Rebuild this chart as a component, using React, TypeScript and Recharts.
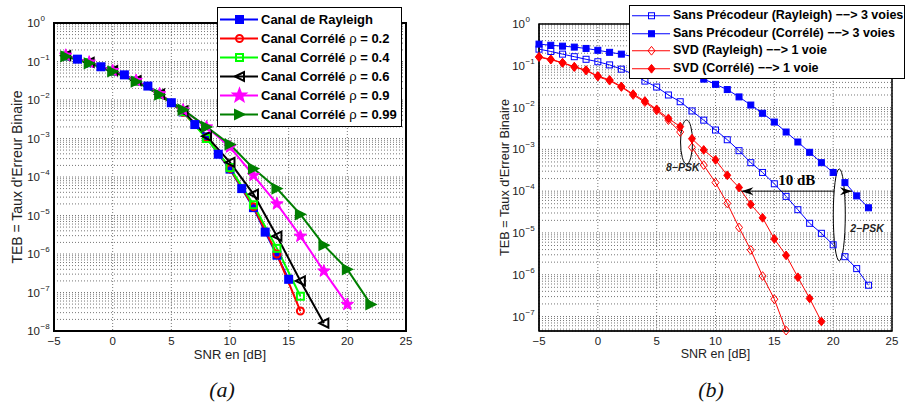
import React from "react";
import {
  LineChart,
  Line,
  XAxis,
  YAxis,
  CartesianGrid,
  Legend,
  Label,
  ReferenceArea,
  ReferenceDot,
  ReferenceLine,
} from "recharts";

// ---------- (a) effet de la corrélation ----------
const snrA1 = [-4, -3, -2, -1, 0, 1, 2, 3, 4, 5, 6, 7, 8, 9, 10, 11, 12, 13, 14, 15];
const snrA2 = [-4, -2, 0, 2, 4, 6, 8, 10, 12, 14, 16, 18, 20, 22];

const berRayleigh = [0.138, 0.115, 0.093, 0.073, 0.056, 0.045, 0.031, 0.023, 0.014, 0.0085, 0.0049, 0.0023, 0.0011, 3.9e-4, 1.6e-4, 5e-5, 1.6e-5, 3.7e-6, 9.3e-7, 2.2e-7];
const berRho02 = [0.14, 0.094, 0.057, 0.031, 0.0138, 0.0048, 0.00105, 1.65e-4, 1.7e-5, 1.0e-6, 3.3e-8];
const berRho04 = [0.14, 0.094, 0.057, 0.031, 0.0138, 0.005, 0.001, 1.75e-4, 1.9e-5, 1.4e-6, 8e-8];
const berRho06 = [0.142, 0.095, 0.058, 0.032, 0.0142, 0.0052, 0.00115, 2.4e-4, 3.6e-5, 2.9e-6, 2e-7, 1.6e-8];
const berRho09 = [0.145, 0.096, 0.058, 0.032, 0.0145, 0.0055, 0.002, 6e-4, 1.1e-4, 2e-5, 2.9e-6, 3.6e-7, 4.9e-8];
const berRho099 = [0.135, 0.09, 0.055, 0.03, 0.0138, 0.0056, 0.002, 7e-4, 1.66e-4, 5e-5, 1.07e-5, 1.7e-6, 4e-7, 4.9e-8];

// ---------- (b) précodeur SVD ----------
const snrB = [-5, -4, -3, -2, -1, 0, 1, 2, 3, 4, 5, 6, 7, 8, 9, 10, 11, 12, 13, 14, 15, 16, 17, 18, 19, 20, 21, 22, 23];

const berSansRay = [0.25, 0.22, 0.19, 0.165, 0.143, 0.125, 0.105, 0.083, 0.063, 0.043, 0.031, 0.02, 0.0138, 0.0083, 0.005, 0.0029, 0.0017, 9.3e-4, 4.8e-4, 2.8e-4, 1.5e-4, 7.5e-5, 3.6e-5, 1.7e-5, 9.8e-6, 5.2e-6, 2.7e-6, 1.4e-6, 5.6e-7];
const berSansCorr = [0.33, 0.31, 0.295, 0.28, 0.26, 0.235, 0.21, 0.19, 0.165, 0.14, 0.118, 0.095, 0.077, 0.061, 0.048, 0.036, 0.027, 0.018, 0.0115, 0.0073, 0.0045, 0.0026, 0.0015, 8.5e-4, 4.8e-4, 2.8e-4, 1.6e-4, 7.7e-5, 4.0e-5];
const berSvdRay = [0.16, 0.14, 0.117, 0.093, 0.077, 0.055, 0.044, 0.031, 0.02, 0.0135, 0.0085, 0.005, 0.0026, 0.00112, 4.2e-4, 1.6e-4, 5.1e-5, 1.35e-5, 3.9e-6, 9.3e-7, 2.6e-7, 4.6e-8];
const berSvdCorr = [0.165, 0.143, 0.119, 0.095, 0.079, 0.057, 0.046, 0.032, 0.021, 0.0144, 0.0091, 0.0055, 0.0035, 0.0018, 9.7e-4, 5.6e-4, 2.4e-4, 1.22e-4, 4.8e-5, 2.3e-5, 7.2e-6, 2.9e-6, 8.7e-7, 2.7e-7, 7.6e-8];

// axes
const xTicks = [-5, 0, 5, 10, 15, 20, 25];
const minorMult = [1, 2, 3, 4, 5, 6, 7, 8, 9];
const expsA = [-8, -7, -6, -5, -4, -3, -2, -1];
const expsB = [-8, -7, -6, -5, -4, -3, -2, -1];
const yMinA = 1e-8;
const yMinB = 4.5e-8;

const logTicks = (exps: number[], min: number) => {
  const out: number[] = [];
  exps.forEach((e) => minorMult.forEach((m) => {
    const v = m * Math.pow(10, e);
    if (v >= min * 0.999) out.push(v);
  }));
  out.push(1);
  return out;
};
const yTicksA = logTicks(expsA, yMinA);
const yTicksB = logTicks(expsB, yMinB);

const zip = (xs: number[], ys: number[]) => ys.map((ber, i) => ({ snr: xs[i], ber }));

type Marker = "square" | "circle" | "triLeft" | "triRight" | "star" | "diamond";
type Series = { name: string; color: string; marker: Marker; filled: boolean; points: { snr: number; ber: number }[] };

const seriesA: Series[] = [
  { name: "Canal de Rayleigh", color: "#0000ff", marker: "square", filled: true, points: zip(snrA1, berRayleigh) },
  { name: "Canal Corrélé ρ = 0.2", color: "#ff0000", marker: "circle", filled: false, points: zip(snrA2, berRho02) },
  { name: "Canal Corrélé ρ = 0.4", color: "#00ff00", marker: "square", filled: false, points: zip(snrA2, berRho04) },
  { name: "Canal Corrélé ρ = 0.6", color: "#000000", marker: "triLeft", filled: false, points: zip(snrA2, berRho06) },
  { name: "Canal Corrélé ρ = 0.9", color: "#ff00ff", marker: "star", filled: true, points: zip(snrA2, berRho09) },
  { name: "Canal Corrélé ρ = 0.99", color: "#007f00", marker: "triRight", filled: true, points: zip(snrA2, berRho099) },
];

const seriesB: Series[] = [
  { name: "Sans Précodeur (Rayleigh) −−> 3 voies", color: "#0000ff", marker: "square", filled: false, points: zip(snrB, berSansRay) },
  { name: "Sans Précodeur (Corrélé) −−> 3 voies", color: "#0000ff", marker: "square", filled: true, points: zip(snrB, berSansCorr) },
  { name: "SVD (Rayleigh) −−> 1 voie", color: "#ff0000", marker: "diamond", filled: false, points: zip(snrB, berSvdRay) },
  { name: "SVD (Corrélé) −−> 1 voie", color: "#ff0000", marker: "diamond", filled: true, points: zip(snrB, berSvdCorr) },
];

const FONT = "Liberation Sans, Arial, Helvetica, sans-serif";
const SERIF = "Liberation Serif, Times New Roman, DejaVu Serif, serif";

function drawMarker(m: Marker, cx: number, cy: number, color: string, filled: boolean, size: number, sw: number, key?: string) {
  const h = size / 2;
  const fill = filled ? color : "none";
  const common = { key, stroke: color, strokeWidth: sw, fill };
  switch (m) {
    case "square":
      return <rect {...common} x={cx - h} y={cy - h} width={size} height={size} />;
    case "circle":
      return <circle {...common} cx={cx} cy={cy} r={h} />;
    case "diamond":
      return <polygon {...common} points={`${cx},${cy - h * 1.25} ${cx + h},${cy} ${cx},${cy + h * 1.25} ${cx - h},${cy}`} />;
    case "triLeft":
      return <polygon {...common} points={`${cx - h},${cy} ${cx + h},${cy - h} ${cx + h},${cy + h}`} />;
    case "triRight":
      return <polygon {...common} points={`${cx + h},${cy} ${cx - h},${cy - h} ${cx - h},${cy + h}`} />;
    case "star": {
      const pts: string[] = [];
      for (let i = 0; i < 10; i++) {
        const a = (-90 + i * 36) * (Math.PI / 180);
        const r = i % 2 === 0 ? h : h * 0.42;
        pts.push(`${cx + r * Math.cos(a)},${cy + r * Math.sin(a)}`);
      }
      return <polygon {...common} points={pts.join(" ")} />;
    }
  }
}

const markerSizeA: Record<Marker, number> = { square: 7, circle: 7, triLeft: 9, triRight: 9, star: 13, diamond: 8 };
const markerSizeB: Record<Marker, number> = { square: 6, circle: 6, triLeft: 8, triRight: 8, star: 10, diamond: 7 };

const XTick = (props: any) => {
  const { x, y, payload } = props;
  const v = payload.value as number;
  return (
    <text x={x} y={y + 14} textAnchor="middle" fontSize={11.5} fontFamily={FONT} fill="#222">
      {v < 0 ? `−${-v}` : v}
    </text>
  );
};

const YTick = (props: any) => {
  const { x, y, payload } = props;
  const v = payload.value as number;
  const e = Math.log10(v);
  if (Math.abs(e - Math.round(e)) > 1e-6) return <g />;
  const ex = Math.round(e);
  return (
    <g>
      <text x={x - 14} y={y + 4} textAnchor="end" fontSize={11.5} fontFamily={FONT} fill="#222">10</text>
      <text x={x - 13.5} y={y - 2} textAnchor="start" fontSize={8} fontFamily={FONT} fill="#222">
        {ex < 0 ? `−${-ex}` : ex}
      </text>
    </g>
  );
};

const LegendName = ({ name }: { name: string }) => {
  const parts = name.split("ρ");
  if (parts.length === 1) return <>{name}</>;
  return (
    <>
      {parts[0]}
      <span style={{ fontWeight: "normal" }}>ρ</span>
      {parts[1]}
    </>
  );
};

const LegendBox = ({ items, rowH, iconW, fontSize, sw, sizes, padTop }: { items: Series[]; rowH: number; iconW: number; fontSize: number; sw: number; sizes: Record<Marker, number>; padTop: number }) => (
  <div style={{ background: "#fff", border: "1px solid #000", paddingTop: padTop, paddingBottom: padTop, boxSizing: "border-box" }}>
    {items.map((s) => (
      <div key={s.name} style={{ display: "flex", alignItems: "center", height: rowH }}>
        <svg width={iconW} height={rowH} style={{ flex: "none" }}>
          <line x1={2} x2={iconW - 1} y1={rowH / 2} y2={rowH / 2} stroke={s.color} strokeWidth={sw} />
          {drawMarker(s.marker, iconW / 2 + 1, rowH / 2, s.color, s.filled, sizes[s.marker], sw)}
        </svg>
        <span style={{ marginLeft: 2, fontWeight: "bold", fontSize, fontFamily: FONT, whiteSpace: "nowrap", color: "#000", lineHeight: `${rowH}px` }}>
          <LegendName name={s.name} />
        </span>
      </div>
    ))}
  </div>
);

const xLabel = (dy: number, size: number) => (p: any) => {
  const vb = p.viewBox || {};
  return (
    <text x={vb.x + vb.width / 2} y={vb.y + dy} textAnchor="middle" fontSize={size} fontFamily={FONT} fill="#222">
      SNR en [dB]
    </text>
  );
};

const yLabel = (xPos: number, size: number) => (p: any) => {
  const vb = p.viewBox || {};
  const cy = vb.y + vb.height / 2;
  return (
    <text x={xPos} y={cy} transform={`rotate(-90, ${xPos}, ${cy})`} textAnchor="middle" dominantBaseline="central" fontSize={size} fontFamily={FONT} fill="#222">
      TEB = Taux d'Erreur Binaire
    </text>
  );
};

const Ellipse = (rx: number, ry: number) => (p: any) => (
  <ellipse cx={p.cx} cy={p.cy} rx={rx} ry={ry} fill="#fff" stroke="#000" strokeWidth={1} />
);

const TextMark = (txt: string, style: React.CSSProperties) => (p: any) => (
  <text x={p.cx} y={p.cy} textAnchor="middle" dominantBaseline="central" style={style}>
    {txt}
  </text>
);

const ArrowHead = (dir: 1 | -1) => (p: any) => {
  const { cx, cy } = p;
  const L = 12 * dir;
  return <polygon points={`${cx},${cy} ${cx + L},${cy - 4} ${cx + L * 0.7},${cy} ${cx + L},${cy + 4}`} fill="#000" />;
};

function PanelA() {
  return (
    <LineChart width={453} height={413} margin={{ top: 23, right: 47, bottom: 52, left: 0 }}>
      <CartesianGrid stroke="#777" strokeDasharray="1 2" />
      <XAxis type="number" dataKey="snr" domain={[-5, 25]} ticks={xTicks} tick={<XTick />} tickLine={false} tickSize={0} tickMargin={0} axisLine={{ stroke: "#000" }} height={30}>
        <Label content={xLabel(28, 13)} />
      </XAxis>
      <YAxis type="number" scale="log" domain={[yMinA, 1]} ticks={yTicksA} interval={0} tick={<YTick />} tickLine={false} tickSize={0} tickMargin={0} axisLine={{ stroke: "#000" }} width={54}>
        <Label content={yLabel(17, 14)} />
      </YAxis>
      {seriesA.map((s) => (
        <Line
          key={s.name}
          data={s.points}
          dataKey="ber"
          name={s.name}
          type="linear"
          stroke={s.color}
          strokeWidth={2}
          isAnimationActive={false}
          activeDot={false}
          dot={(p: any) => drawMarker(s.marker, p.cx, p.cy, s.color, s.filled, markerSizeA[s.marker], s.marker === "star" ? 1 : 2, `${s.name}-${p.index}`) as any}
        />
      ))}
      <ReferenceArea x1={-5} x2={25} y1={yMinA} y2={1} fill="none" stroke="#000" strokeWidth={2} ifOverflow="visible" />
      <Legend
        layout="vertical"
        align="center"
        verticalAlign="middle"
        wrapperStyle={{ left: 217, top: 7, width: 185, height: "auto" }}
        content={() => <LegendBox items={seriesA} rowH={19} iconW={41} fontSize={13} sw={2} sizes={markerSizeA} padTop={2} />}
      />
    </LineChart>
  );
}

function PanelB() {
  return (
    <LineChart width={454} height={413} margin={{ top: 24, right: 15, bottom: 52, left: 0 }}>
      <CartesianGrid stroke="#777" strokeDasharray="1 2" />
      <XAxis type="number" dataKey="snr" domain={[-5, 25]} ticks={xTicks} tick={<XTick />} tickLine={false} tickSize={0} tickMargin={0} axisLine={{ stroke: "#000" }} height={30}>
        <Label content={xLabel(27, 12.5)} />
      </XAxis>
      <YAxis type="number" scale="log" domain={[yMinB, 1]} ticks={yTicksB} interval={0} tick={<YTick />} tickLine={false} tickSize={0} tickMargin={0} axisLine={{ stroke: "#000" }} width={86}>
        <Label content={yLabel(52, 12.7)} />
      </YAxis>
      {seriesB.map((s) => (
        <Line
          key={s.name}
          data={s.points}
          dataKey="ber"
          name={s.name}
          type="linear"
          stroke={s.color}
          strokeWidth={1}
          isAnimationActive={false}
          activeDot={false}
          dot={(p: any) => drawMarker(s.marker, p.cx, p.cy, s.color, s.filled, markerSizeB[s.marker], 1, `${s.name}-${p.index}`) as any}
        />
      ))}
      <ReferenceDot x={7.54} y={1.5e-3} r={0} ifOverflow="visible" shape={Ellipse(6, 22)} />
      <ReferenceDot x={20.52} y={2.7e-5} r={0} ifOverflow="visible" shape={Ellipse(6, 46)} />
      <ReferenceLine segment={[{ x: 12.2, y: 1e-4 }, { x: 21.6, y: 1e-4 }]} stroke="#000" strokeWidth={1} ifOverflow="visible" />
      <ReferenceDot x={12.2} y={1e-4} r={0} ifOverflow="visible" shape={ArrowHead(1)} />
      <ReferenceDot x={21.6} y={1e-4} r={0} ifOverflow="visible" shape={ArrowHead(-1)} />
      <ReferenceDot x={16.9} y={1.86e-4} r={0} ifOverflow="visible" shape={TextMark("10 dB", { fontFamily: SERIF, fontWeight: "bold", fontSize: 15, fill: "#000" })} />
      <ReferenceDot x={7.22} y={3.8e-4} r={0} ifOverflow="visible" shape={TextMark("8−PSK", { fontFamily: FONT, fontWeight: "bold", fontStyle: "italic", fontSize: 10.5, fill: "#222" })} />
      <ReferenceDot x={22.88} y={1.32e-5} r={0} ifOverflow="visible" shape={TextMark("2−PSK", { fontFamily: FONT, fontWeight: "bold", fontStyle: "italic", fontSize: 10.5, fill: "#222" })} />
      <ReferenceArea x1={-5} x2={25} y1={yMinB} y2={1} fill="none" stroke="#000" strokeWidth={1.5} ifOverflow="visible" />
      <Legend
        layout="vertical"
        align="center"
        verticalAlign="middle"
        wrapperStyle={{ left: 176, top: 5, width: 276, height: "auto" }}
        content={() => <LegendBox items={seriesB} rowH={17.5} iconW={41} fontSize={12.5} sw={1} sizes={markerSizeB} padTop={1} />}
      />
    </LineChart>
  );
}

const captionStyle: React.CSSProperties = {
  position: "absolute",
  top: 377,
  width: 100,
  textAlign: "center",
  fontFamily: SERIF,
  fontStyle: "italic",
  fontSize: 22,
  lineHeight: "26px",
  color: "#111",
};

export default function App() {
  return (
    <div style={{ position: "absolute", left: 0, top: 0, width: 907, height: 413, background: "#fff", overflow: "hidden" }}>
      <div style={{ position: "absolute", left: 0, top: 0 }}>
        <PanelA />
      </div>
      <div style={{ position: "absolute", left: 453, top: 0 }}>
        <PanelB />
      </div>
      <div style={{ ...captionStyle, left: 172 }}>(a)</div>
      <div style={{ ...captionStyle, left: 661 }}>(b)</div>
    </div>
  );
}
